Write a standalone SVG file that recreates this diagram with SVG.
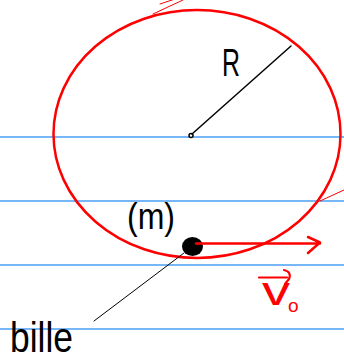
<svg xmlns="http://www.w3.org/2000/svg" width="344" height="362" viewBox="0 0 344 362">
<style>
.rule{stroke:#4a9ef5;stroke-width:1.5;fill:none}
.red{stroke:#ff0000;fill:none;stroke-linecap:round;stroke-linejoin:round}
.ink{stroke:#000;fill:none;stroke-linecap:round}
.lbl{font-family:"Liberation Sans",Arial,sans-serif;fill:#000}
.rlbl{font-family:"Liberation Sans",Arial,sans-serif;fill:#ff0000}
</style>
<rect width="344" height="362" fill="#fff"/>
<g id="paper">
<line class="rule" x1="0" y1="137" x2="344" y2="137"/>
<line class="rule" x1="0" y1="201" x2="344" y2="201"/>
<line class="rule" x1="0" y1="265" x2="344" y2="265"/>
<line class="rule" x1="0" y1="329" x2="344" y2="329"/>
</g>
<g id="trajectory">
<ellipse class="red" cx="197" cy="134" rx="143.5" ry="124" stroke-width="2.5"/>
<line class="red" x1="153" y1="14" x2="183" y2="0" stroke-width="1"/>
<line class="red" x1="160" y1="4" x2="178" y2="-2" stroke-width="1"/>
<line class="red" x1="320" y1="201" x2="344" y2="190" stroke-width="1"/>
</g>
<g id="center">
<circle cx="191" cy="135.5" r="2" fill="#fff" stroke="#000" stroke-width="1.5"/>
</g>
<g id="ball">
<ellipse cx="192.5" cy="246.5" rx="10.5" ry="9.5" fill="#000"/>
</g>
<g id="connectors">
<line class="ink" x1="192" y1="134" x2="291" y2="46" stroke-width="1.5"/>
<line class="ink" x1="94" y1="321" x2="184" y2="253" stroke-width="1"/>
<path class="red" d="M196 243.5 H320 M308 237 L320 242.5 L308 253" stroke-width="2.5"/>
<path class="red" d="M259 277.5 H287 M284 270 Q292 272 289 279 L285 284" stroke-width="2.2"/>
</g>
<g id="labels">
<text class="lbl" x="222" y="76" font-size="38" textLength="18" lengthAdjust="spacingAndGlyphs">R</text>
<text class="lbl" x="127" y="229" font-size="36" textLength="48" lengthAdjust="spacingAndGlyphs">(m)</text>
<text class="lbl" x="10" y="352" font-size="42" textLength="63" lengthAdjust="spacingAndGlyphs">bille</text>
<text class="rlbl" x="262" y="305" font-size="40" textLength="28" lengthAdjust="spacingAndGlyphs">v</text>
<text class="rlbl" x="288" y="312" font-size="19">o</text>
</g>
</svg>
